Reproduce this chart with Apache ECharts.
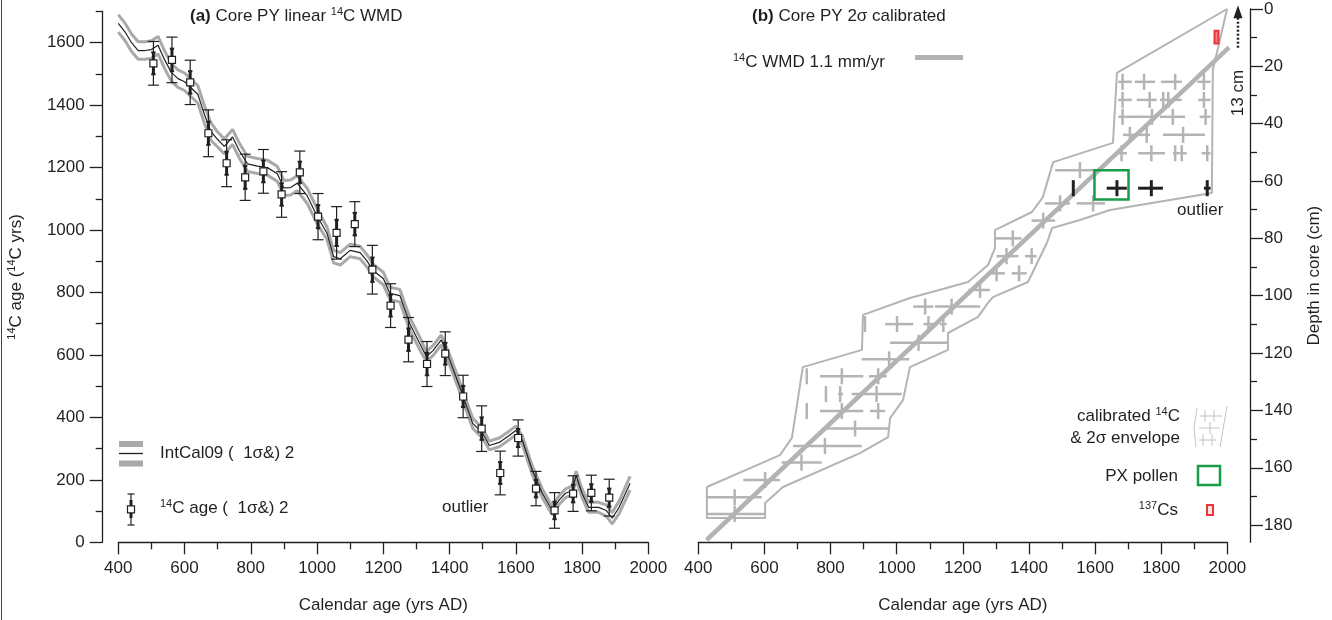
<!DOCTYPE html>
<html><head><meta charset="utf-8">
<script src="https://cdn.jsdelivr.net/npm/echarts@6/dist/echarts.min.js"></script>
<style>html,body{margin:0;padding:0;background:#fff}#c{width:1332px;height:620px}</style>
</head><body><div id="c"></div>
<script>
// ---------------- DATA ----------------
// (a) IntCal09 curve: calendar year AD, 14C age, 1-sigma
const icalYears = [400,420,440,460,480,500,520,540,560,580,600,620,640,660,680,
  700,720,745,765,790,820,850,880,900,920,940,970,1000,
  1030,1050,1070,1100,1130,1150,1170,1200,1220,1250,1280,1310,
  1330,1350,1375,1400,1430,1450,1470,1500,
  1520,1550,1580,1600,1620,1650,1680,1710,1730,1750,1770,1782,1800,
  1820,1850,1873,1891,1912,1945];
const icalAges = [1662,1635,1600,1575,1575,1578,1592,1545,1505,1485,1475,1455,1435,1370,1315,
  1290,1268,1298,1255,1212,1205,1200,1180,1135,1136,1150,1110,1045,
  990,915,908,935,928,902,870,845,797,790,700,637,
  595,614,648,585,500,440,381,349,
  310,320,342,358,326,230,157,102,134,157,166,214,157,
  112,112,102,77,112,189];
const icalSigma = [14,14,14,14,14,14,14,14,14,14,14,14,14,14,14,
  12,12,12,12,12,12,12,12,12,12,12,12,12,
  10,10,10,10,10,10,10,10,10,10,10,10,
  8,8,8,8,8,8,8,8,
  7,7,7,7,7,7,7,7,7,7,7,7,7,
  8,8,9,9,10,11];

// (a) measured 14C ages (linear WMD positions)
const c14Years = [506,562,617,672,727,783,838,893,948,1003,1059,1114,1167,1222,1276,1332,1387,1441,1497,1553,1607,1661,1717,1773,1828,1882];
const c14Ages  = [1534,1545,1473,1310,1214,1169,1188,1114,1185,1043,991,1019,873,758,649,571,604,467,364,222,334,172,102,156,158,143];
const c14Err1  = [35,36,36,37,37,37,35,36,34,37,42,36,39,35,36,36,35,34,36,35,29,28,28,28,28,29];
const c14Err2  = [70,73,71,75,75,74,70,73,68,74,84,72,78,70,71,72,70,68,73,70,58,55,57,57,57,59];

// (b) WMD line [year, depth cm]
const wmdLine = [[425,185.2],[2005,13.4]];
// (b) calibrated 2-sigma ranges: [depth, fromYear, toYear, modeYear]
const calCrosses = [
  [25.4,1670,1711,1683],[25.4,1720,1781,1748],[25.4,1799,1862,1842],[25.4,1909,1949,1929],
  [31.7,1670,1711,1683],[31.7,1726,1786,1765],[31.7,1796,1812,1806],[31.7,1812,1862,1821],[31.7,1912,1949,1929],
  [37.6,1670,1726,1683],[37.6,1726,1786,1772],[37.6,1796,1872,1835],[37.6,1916,1949,1934],
  [43.9,1684,1730,1705],[43.9,1730,1766,1756],[43.9,1805,1932,1866],
  [50.3,1665,1696,1680],[50.3,1730,1811,1770],[50.3,1835,1856,1842],[50.3,1856,1877,1862],[50.3,1922,1949,1939],
  [56.2,1479,1614,1554],
  [67.8,1448,1524,1494],[67.8,1544,1630,1594],
  [73.8,1408,1479,1443],
  [80.0,1297,1378,1351],
  [86.2,1302,1368,1332],[86.2,1388,1423,1408],
  [92.2,1287,1327,1302],[92.2,1348,1393,1370],
  [98.0,1217,1282,1252],
  [103.8,1050,1111,1086],[103.8,1116,1252,1166],
  [109.9,904,904,904],[109.9,965,1050,1001],[109.9,1081,1116,1096],[109.9,1131,1151,1141],
  [116.4,980,1156,1066],
  [122.2,894,1038,977],
  [128.1,728,728,728],[128.1,768,899,834],[128.1,916,970,944],
  [134.3,786,786,786],[134.3,823,838,829],[134.3,864,1015,939],
  [140.2,728,728,728],[140.2,768,899,834],[140.2,919,965,944],
  [146.3,778,975,874],
  [152.4,687,894,783],
  [158.2,652,773,712],
  [164.3,536,647,602],
  [170.3,425,592,510],
  [176.1,425,602,510]
];
const blackCrosses = [[62.5,1534,1534,1534],[62.5,1635,1696,1666],[62.5,1730,1805,1770],[62.5,1929,1949,1939]];
// (b) 2-sigma envelope [year, depth]
const envelope = [[426,166.7],[426,177.5],[602,177.5],[602,172.3],[656,166.7],[889,154.9],[974,149.3],[980,142.7],
  [1019,136.4],[1040,124.9],[1155,118.9],[1155,113],[1246,107.4],[1276,102.5],[1291,100.5],[1397,95.2],
  [1454,81.6],[1470,76.4],[1554,73.6],[1645,70.1],[1953,64.2],[1956,21.3],[1999,0],[1666,22.3],[1654,46.7],
  [1473,53.4],[1442,65.6],[1409,70.8],[1297,77.1],[1297,83.4],[1276,89.3],[1216,95.2],[1040,100.8],
  [898,106.7],[895,118.9],[716,124.9],[683,149.6],[647,155.6],[426,166.7]];
const pxPollenBox = [1598,1701,56.2,66.4];   // yearFrom, yearTo, depthFrom, depthTo
const cs137Box = [1961,1973,7.6,12.0];
const topArrow = [[2032,13.5,-1.3]];          // year, depthFrom, depthTo (13 cm)

// tick labels
const xTickInterval = 200;
const yTicksA = [0,200,400,600,800,1000,1200,1400,1600];
const yMinorA = [100,300,500,700,900,1100,1300,1500,1700];
const yTicksB = [0,20,40,60,80,100,120,140,160,180];
const yMinorB = [10,30,50,70,90,110,130,150,170];

// ---------------- STYLE ----------------
const FONT = '"Liberation Sans", Arial, Helvetica, sans-serif';
const T = '#231f20';
const GREY = '#a9a9a9';
const LG = '#b4b4b4';
const CROSS_HALF = 2.8;
const plain = v => String(v);

const axRich = {s:{fontSize:11, lineHeight:12, verticalAlign:'top', color:T, fontFamily:FONT}};
const gRich = {
  b:{fontWeight:'bold', fontSize:17, fontFamily:FONT, fill:T, lineHeight:20},
  s:{fontSize:11, fontFamily:FONT, fill:T, lineHeight:12, verticalAlign:'top'}
};

function xAx(grid){
  return {gridIndex:grid, type:'value', min:400, max:2000, interval:xTickInterval,
    axisLine:{onZero:false, lineStyle:{color:T,width:1.3}},
    axisTick:{length:12, lineStyle:{color:T,width:1.3}},
    minorTick:{show:true, splitNumber:2, length:7, lineStyle:{color:T,width:1.3}},
    axisLabel:{fontSize:17, color:T, margin:18, fontFamily:FONT, formatter:plain},
    splitLine:{show:false}, minorSplitLine:{show:false},
    name:'Calendar age (yrs AD)', nameLocation:'middle', nameGap:55,
    nameTextStyle:{fontSize:17, color:T, fontFamily:FONT}};
}
function yAx(grid, pos, offset, min, max, inv, ticks, minor, major, name, nameGap){
  if(major){
    return {gridIndex:grid, type:'value', position:pos, offset:offset, min:min, max:max, inverse:inv,
      axisLine:{show:true, onZero:false, lineStyle:{color:T,width:1.3}},
      axisTick:{show:true, length:13, customValues:ticks, lineStyle:{color:T,width:1.3}},
      axisLabel:{show:true, customValues:ticks, fontSize:17, color:T, margin:pos==='left'?18:14, fontFamily:FONT, formatter:plain},
      splitLine:{show:false},
      name:name, nameLocation:'middle', nameGap:nameGap, nameRotate:90,
      nameTextStyle:{fontSize:17, color:T, fontFamily:FONT, lineHeight:20, rich:axRich}};
  }
  return {gridIndex:grid, type:'value', position:pos, offset:offset, min:min, max:max, inverse:inv,
    axisLine:{show:false}, axisLabel:{show:false}, splitLine:{show:false},
    axisTick:{show:true, length:7, customValues:minor, lineStyle:{color:T,width:1.3}}};
}

function errRender(params, api){
  const x=api.value(0), a=api.value(1), e1=api.value(2), e2=api.value(3);
  const p=api.coord([x,a]), t2=api.coord([x,a+e2]), b2=api.coord([x,a-e2]);
  const t1=api.coord([x,a+e1]), b1=api.coord([x,a-e1]);
  const s={stroke:T, lineWidth:1.2};
  const L=(x1,y1,x2,y2,st)=>({type:'line', shape:{x1,y1,x2,y2}, style:st});
  return {type:'group', children:[
    L(p[0],t2[1],p[0],b2[1],s),
    L(p[0]-5.5,t2[1],p[0]+5.5,t2[1],s),
    L(p[0]-5.5,b2[1],p[0]+5.5,b2[1],s),
    L(p[0],t1[1],p[0],b1[1],{stroke:T,lineWidth:3}),
    L(p[0]-2.2,t1[1],p[0]+2.2,t1[1],{stroke:T,lineWidth:2}),
    L(p[0]-2.2,b1[1],p[0]+2.2,b1[1],{stroke:T,lineWidth:2}),
    {type:'rect', shape:{x:p[0]-3.5,y:p[1]-3.5,width:7,height:7}, style:{fill:'#fff',stroke:T,lineWidth:1.2}}
  ]};
}
function crossRender(color, w){
  return function(params, api){
    const d=api.value(0), f=api.value(1), t=api.value(2), m=api.value(3);
    const a=api.coord([f,d]), b=api.coord([t,d]);
    const v1=api.coord([m,d-CROSS_HALF]), v2=api.coord([m,d+CROSS_HALF]);
    const ch=[{type:'line', shape:{x1:v1[0],y1:v1[1],x2:v2[0],y2:v2[1]}, style:{stroke:color,lineWidth:w}}];
    if(t>f) ch.push({type:'line', shape:{x1:a[0],y1:a[1],x2:b[0],y2:b[1]}, style:{stroke:color,lineWidth:w}});
    return {type:'group', children:ch};
  };
}
function boxRender(stroke, fill, w){
  return function(params, api){
    const c1=api.coord([api.value(0),api.value(2)]), c2=api.coord([api.value(1),api.value(3)]);
    return {type:'rect', shape:{x:Math.min(c1[0],c2[0]), y:Math.min(c1[1],c2[1]),
      width:Math.abs(c2[0]-c1[0]), height:Math.abs(c2[1]-c1[1])},
      style:{stroke:stroke, fill:fill, lineWidth:w}};
  };
}
function arrowRender(params, api){
  const p1=api.coord([api.value(0),api.value(1)]), p2=api.coord([api.value(0),api.value(2)]);
  return {type:'group', children:[
    {type:'line', shape:{x1:p1[0],y1:p1[1],x2:p1[0],y2:p2[1]+11}, style:{stroke:T,lineWidth:2.5,lineDash:[2,2]}},
    {type:'polygon', shape:{points:[[p2[0],p2[1]],[p2[0]-4.5,p2[1]+13],[p2[0]+4.5,p2[1]+13]]}, style:{fill:T}}
  ]};
}

const upper2 = icalYears.map((y,i)=>[y, icalAges[i]+2*icalSigma[i]]);
const lower2 = icalYears.map((y,i)=>[y, icalAges[i]-2*icalSigma[i]]);
const mid = icalYears.map((y,i)=>[y, icalAges[i]]);
const errData = c14Years.map((y,i)=>[y, c14Ages[i], c14Err1[i], c14Err2[i]]);

function gtext(x, y, text, extra, rot){
  const el = {type:'text', x:x, y:y, silent:true, z:100,
    style:Object.assign({text:text, fill:T, fontSize:17, fontFamily:FONT, lineHeight:20,
      align:'left', verticalAlign:'middle', rich:gRich}, extra||{})};
  if(rot) el.rotation = rot;
  return el;
}
function gline(x1,y1,x2,y2,stroke,w){
  return {type:'line', silent:true, z:100, shape:{x1,y1,x2,y2}, style:{stroke:stroke, lineWidth:w}};
}

const graphics = [
  gline(1.5,0,1.5,620,'#444',1),
  gtext(190,16,'{b|(a)} Core PY linear {s|14}C WMD'),
  gtext(752,16,'{b|(b)} Core PY 2σ calibrated'),
  gtext(733,62,'{s|14}C WMD 1.1 mm/yr'),
  {type:'rect', silent:true, z:100, shape:{x:915,y:55,width:48,height:5}, style:{fill:'#b3b3b6'}},
  // left legend
  {type:'rect', silent:true, z:100, shape:{x:119,y:441,width:24,height:6}, style:{fill:GREY}},
  {type:'rect', silent:true, z:100, shape:{x:119,y:460.5,width:24,height:6}, style:{fill:GREY}},
  gline(119,453.5,143,453.5,T,1.3),
  gtext(160,453,'IntCal09 (  1σ&) 2'),
  gline(131,494,131,525,T,1.2),
  gline(127.5,494,134.5,494,T,1.2),
  gline(127.5,525,134.5,525,T,1.2),
  gline(131,500,131,518,T,3),
  {type:'rect', silent:true, z:101, shape:{x:127.5,y:505.8,width:7,height:7}, style:{fill:'#fff',stroke:T,lineWidth:1.2}},
  gtext(160,508,'{s|14}C age (  1σ&) 2'),
  gtext(442,507,'outlier'),
  gtext(1177,210,'outlier'),
  gtext(1238,93,'13 cm',{align:'center'},Math.PI/2),
  // right legend
  gtext(1180,416.7,'calibrated {s|14}C',{align:'right'}),
  gtext(1180,438.3,'& 2σ envelope',{align:'right'}),
  gtext(1178,476,'PX pollen',{align:'right'}),
  gtext(1178,510,'{s|137}Cs',{align:'right'}),
  {type:'polyline', silent:true, z:100, shape:{points:[[1197,408],[1194,428],[1196,447]]}, style:{stroke:'#c4c4c4',lineWidth:1,fill:null}},
  gline(1227,406,1220,447,'#c4c4c4',1),
  gline(1200,416,1222,416,'#c4c4c4',1),
  gline(1199,428,1220,428,'#c4c4c4',1),
  gline(1199,440,1216,440,'#c4c4c4',1),
  gline(1205,410,1205,422,'#c4c4c4',1),
  gline(1214,410,1214,422,'#c4c4c4',1),
  gline(1210,422,1210,434,'#c4c4c4',1),
  gline(1203,434,1203,446,'#c4c4c4',1),
  gline(1212,434,1212,446,'#c4c4c4',1),
  {type:'rect', silent:true, z:100, shape:{x:1198,y:466,width:22,height:19}, style:{fill:null,stroke:'#1a9b48',lineWidth:2.5}},
  {type:'rect', silent:true, z:100, shape:{x:1207,y:505,width:6,height:10}, style:{fill:'#fde3e3',stroke:'#e8373c',lineWidth:2}}
];

const option = {
  animation:false,
  backgroundColor:'#fff',
  textStyle:{fontFamily:FONT},
  grid:[
    {left:118.3, top:11.5, width:530, height:530.8, containLabel:false, outerBoundsMode:'none'},
    {left:698.3, top:9, width:529.1, height:533.3, containLabel:false, outerBoundsMode:'none'}
  ],
  xAxis:[xAx(0), xAx(1)],
  yAxis:[
    yAx(0,'left',15.6,0,1700,false,yTicksA,null,true,'{s|14}C age ({s|14}C yrs)',76),
    yAx(0,'left',15.6,0,1700,false,null,yMinorA,false),
    yAx(1,'right',22.6,0,186,true,yTicksB,null,true,'Depth in core (cm)',54),
    yAx(1,'right',22.6,0,186,true,null,yMinorB,false)
  ],
  series:[
    {type:'line', xAxisIndex:0, yAxisIndex:0, data:upper2, symbol:'none', silent:true, lineStyle:{color:GREY,width:3}, clip:false},
    {type:'line', xAxisIndex:0, yAxisIndex:0, data:lower2, symbol:'none', silent:true, lineStyle:{color:GREY,width:3}, clip:false},
    {type:'line', xAxisIndex:0, yAxisIndex:0, data:mid, symbol:'none', silent:true, lineStyle:{color:T,width:1.2}, clip:false},
    {type:'custom', xAxisIndex:0, yAxisIndex:0, data:errData, renderItem:errRender, silent:true, z:5},
    {type:'line', xAxisIndex:1, yAxisIndex:2, data:envelope, symbol:'none', silent:true, lineStyle:{color:LG,width:2}, clip:false},
    {type:'custom', xAxisIndex:1, yAxisIndex:2, data:calCrosses, renderItem:crossRender(LG,2.5), silent:true},
    {type:'line', xAxisIndex:1, yAxisIndex:2, data:wmdLine, symbol:'none', silent:true, lineStyle:{color:'#b3b3b6',width:4.5}, clip:false, z:3},
    {type:'custom', xAxisIndex:1, yAxisIndex:2, data:blackCrosses, renderItem:crossRender(T,3), silent:true, z:6},
    {type:'custom', xAxisIndex:1, yAxisIndex:2, data:[pxPollenBox], renderItem:boxRender('#1a9b48',null,2.5), silent:true, z:7},
    {type:'custom', xAxisIndex:1, yAxisIndex:2, data:[cs137Box], renderItem:boxRender('#e8373c','#f07f82',2), silent:true, z:7},
    {type:'custom', xAxisIndex:1, yAxisIndex:2, data:topArrow, renderItem:arrowRender, silent:true, z:7}
  ],
  graphic:graphics
};
const chart = echarts.init(document.getElementById('c'));
chart.setOption(option);
</script>
</body></html>
